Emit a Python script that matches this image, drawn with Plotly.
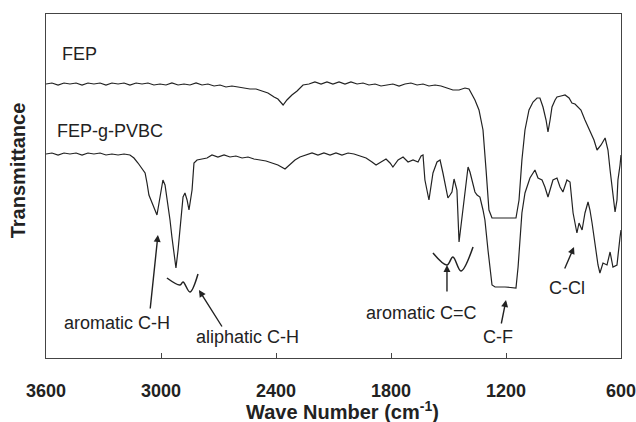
import plotly.graph_objects as go

# ---- data (wavenumber in cm-1, transmittance in arbitrary offset units) ----
fep_wn = [3600, 3569, 3537, 3506, 3475, 3443, 3412, 3381, 3350, 3318,
          3287, 3256, 3224, 3193, 3162, 3130, 3099, 3068, 3037, 3005,
          2974, 2943, 2911, 2880, 2849, 2817, 2786, 2755, 2723, 2692,
          2661, 2630, 2598, 2567, 2536, 2504, 2473, 2442, 2410, 2390,
          2363, 2343, 2317, 2290, 2259, 2228, 2197, 2165, 2134, 2103,
          2071, 2040, 2009, 1977, 1946, 1915, 1883, 1852, 1821, 1790,
          1758, 1727, 1696, 1664, 1633, 1602, 1570, 1539, 1508, 1477,
          1445, 1414, 1393, 1362, 1341, 1320, 1304, 1289, 1273, 1231,
          1190, 1148, 1132, 1117, 1101, 1080, 1059, 1038, 1023, 1007,
          991, 981, 970, 960, 944, 934, 913, 892, 871, 856,
          840, 824, 809, 788, 772, 757, 741, 725, 704, 683,
          668, 657, 642, 631, 621, 616, 605, 600]
fep_t = [274, 275, 273, 275, 274, 275, 273, 275, 274, 275,
         273, 275, 274, 275, 273, 275, 274, 275, 273, 274,
         273, 275, 273, 274, 273, 275, 273, 274, 272, 273,
         271, 272, 271, 270, 269, 269, 267, 265, 261, 259,
         253, 258, 263, 267, 273, 274, 276, 274, 276, 274,
         276, 274, 276, 274, 275, 273, 274, 272, 273, 274,
         272, 274, 275, 273, 274, 272, 273, 272, 270, 268,
         268, 270, 269, 258, 248, 228, 188, 148, 140, 140,
         140, 140, 158, 198, 228, 248, 256, 260, 260, 251,
         238, 226, 238, 251, 258, 261, 262, 263, 260, 255,
         254, 251, 248, 238, 231, 225, 218, 208, 213, 220,
         208, 188, 163, 146, 158, 178, 193, 203]

pvbc_wn = [3600, 3569, 3537, 3506, 3475, 3443, 3412, 3381, 3350, 3318,
           3287, 3256, 3224, 3193, 3162, 3141, 3120, 3099, 3083, 3073,
           3063, 3042, 3021, 3005, 2990, 2979, 2969, 2953, 2943, 2932,
           2922, 2911, 2906, 2896, 2885, 2875, 2864, 2854, 2843, 2838,
           2828, 2812, 2786, 2760, 2734, 2703, 2671, 2640, 2609, 2577,
           2546, 2515, 2483, 2452, 2421, 2390, 2353, 2327, 2301, 2275,
           2243, 2212, 2181, 2150, 2118, 2087, 2056, 2024, 1993, 1962,
           1930, 1899, 1878, 1852, 1826, 1805, 1790, 1763, 1737, 1711,
           1685, 1659, 1643, 1633, 1623, 1602, 1581, 1560, 1544, 1529,
           1513, 1503, 1492, 1482, 1471, 1456, 1445, 1435, 1424, 1409,
           1398, 1388, 1377, 1362, 1351, 1336, 1320, 1310, 1294, 1283,
           1273, 1257, 1205, 1148, 1137, 1127, 1117, 1101, 1075, 1049,
           1033, 1012, 997, 981, 970, 955, 934, 918, 903, 882,
           866, 850, 830, 819, 803, 788, 772, 762, 751, 736,
           720, 710, 694, 673, 657, 642, 621, 605, 600]
pvbc_t = [204, 205, 203, 205, 204, 205, 203, 205, 204, 205,
          203, 204, 203, 204, 203, 200, 195, 190, 185, 175,
          163, 153, 143, 161, 178, 173, 161, 138, 121, 103,
          90, 108, 118, 143, 161, 165, 158, 148, 160, 168,
          195, 198, 199, 200, 203, 201, 203, 201, 202, 200,
          201, 199, 198, 197, 195, 193, 189, 194, 198, 201,
          203, 205, 203, 205, 203, 205, 203, 205, 204, 202,
          200, 196, 193, 196, 199, 195, 191, 198, 201, 196,
          198, 196, 202, 203, 178, 158, 185, 196, 198, 185,
          168, 160, 163, 166, 179, 168, 116, 133, 151, 178,
          191, 186, 178, 166, 163, 161, 148, 138, 108, 88,
          73, 71, 71, 70, 91, 118, 145, 165, 180, 188,
          180, 178, 171, 161, 168, 178, 180, 171, 166, 178,
          176, 145, 125, 135, 128, 145, 156, 148, 135, 115,
          93, 85, 95, 93, 106, 91, 93, 121, 128]

# decorative peak sketches next to the labels
aliph_wn = [2969, 2901, 2885, 2849, 2807]
aliph_t = [80, 73, 76, 66, 84]
cc_wn = [1581, 1508, 1477, 1435, 1372]
cc_t = [105, 93, 101, 87, 111]

tick_vals = [3600, 3000, 2400, 1800, 1200, 600]
tick_text = ["3600", "3000", "2400", "1800", "1200", "600"]

x_title = "Wave Number (cm<sup>-1</sup>)"
y_title = "Transmittance"

# labels: (text, wavenumber, transmittance, anchor)
labels = [
    ("FEP", 3527, 304, "left"),
    ("FEP-g-PVBC", 3553, 227, "left"),
    ("aromatic C-H", 3227, 35, "center"),
    ("aliphatic C-H", 2549, 21, "center"),
    ("aromatic C=C", 1641, 45, "center"),
    ("C-F", 1242, 21, "center"),
    ("C-Cl", 884, 70, "center"),
]
# arrows: (tail_wn, tail_t, tip_wn, tip_t)
arrows = [
    (3057, 48, 3016, 123),
    (2677, 30, 2802, 68),
    (1508, 65, 1508, 93),
    (1226, 33, 1200, 58),
    (897, 88, 845, 111),
]

LINE = "#222222"
FONT = "Arial, Liberation Sans, Helvetica, sans-serif"

fig = go.Figure()
fig.add_trace(go.Scatter(x=fep_wn, y=fep_t, mode="lines",
                         line=dict(color=LINE, width=1.2), showlegend=False))
fig.add_trace(go.Scatter(x=pvbc_wn, y=pvbc_t, mode="lines",
                         line=dict(color=LINE, width=1.2), showlegend=False))
fig.add_trace(go.Scatter(x=aliph_wn, y=aliph_t, mode="lines",
                         line=dict(color=LINE, width=1.5, shape="spline"),
                         showlegend=False))
fig.add_trace(go.Scatter(x=cc_wn, y=cc_t, mode="lines",
                         line=dict(color=LINE, width=1.5, shape="spline"),
                         showlegend=False))

for text, xw, yt, anc in labels:
    fig.add_annotation(x=xw, y=yt, text=text, showarrow=False,
                       xanchor=anc, yanchor="middle",
                       font=dict(family=FONT, size=18, color=LINE))
for tx, ty, hx, hy in arrows:
    fig.add_annotation(x=hx, y=hy, ax=tx, ay=ty, xref="x", yref="y",
                       axref="x", ayref="y", text="", showarrow=True,
                       arrowhead=2, arrowsize=1, arrowwidth=1.4,
                       arrowcolor=LINE)

# axis titles as free text (positioned in paper coordinates)
fig.add_annotation(x=0.515, y=-0.152, xref="paper", yref="paper",
                   text=x_title, showarrow=False,
                   xanchor="center", yanchor="middle",
                   font=dict(family=FONT, size=20, color=LINE, weight="bold"))
fig.add_annotation(x=-0.0496, y=0.547, xref="paper", yref="paper",
                   text=y_title, showarrow=False, textangle=-90,
                   xanchor="center", yanchor="middle",
                   font=dict(family=FONT, size=20, color=LINE, weight="bold"))

fig.update_layout(
    width=636, height=422,
    margin=dict(l=46, r=15, t=14, b=64, autoexpand=False),
    paper_bgcolor="white", plot_bgcolor="white",
    font=dict(family=FONT, color=LINE),
    xaxis=dict(range=[3600, 600], tickvals=tick_vals, ticktext=tick_text,
               ticks="inside", ticklen=5, tickwidth=1, tickcolor="#444",
               showline=True, mirror=True, linecolor="#444", linewidth=1,
               showgrid=False, zeroline=False, ticklabelstandoff=16,
               automargin=False, ticklabeloverflow="allow",
               tickfont=dict(family=FONT, size=18, color=LINE, weight="bold")),
    yaxis=dict(range=[0, 344], showticklabels=False, ticks="",
               showline=True, mirror=True, linecolor="#444", linewidth=1,
               showgrid=False, zeroline=False, automargin=False),
)

fig.write_html("out.html",
               config={"displayModeBar": False},
               post_script="document.body.style.margin='0';"
                           "document.body.style.overflow='hidden';")
